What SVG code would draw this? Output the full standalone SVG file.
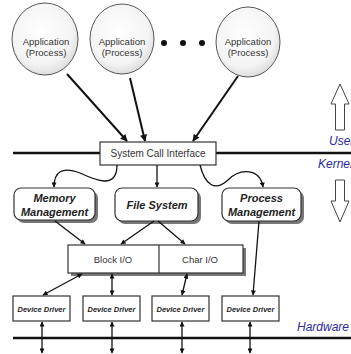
<svg xmlns="http://www.w3.org/2000/svg" width="351" height="354" viewBox="0 0 351 354">
<defs>
<radialGradient id="cg" cx="0.45" cy="0.4" r="0.65">
<stop offset="0" stop-color="#ffffff"/><stop offset="0.7" stop-color="#f4f4f4"/><stop offset="1" stop-color="#d6d6d6"/>
</radialGradient>
<marker id="ah" viewBox="0 0 10 10" refX="9" refY="5" markerWidth="8" markerHeight="7" orient="auto-start-reverse" markerUnits="userSpaceOnUse">
<path d="M0,0 L10,5 L0,10 z" fill="#111"/>
</marker>
<marker id="as" viewBox="0 0 10 10" refX="9" refY="5" markerWidth="6" markerHeight="5" orient="auto-start-reverse" markerUnits="userSpaceOnUse">
<path d="M0,0 L10,5 L0,10 z" fill="#111"/>
</marker>
</defs>
<style>
.app{fill:url(#cg);stroke:#555;stroke-width:1}
.t{font-family:"Liberation Sans",Arial,sans-serif;fill:#333;text-anchor:middle}
.bi{font-family:"Liberation Sans",Arial,sans-serif;font-weight:bold;font-style:italic;fill:#222;text-anchor:middle}
.box{fill:#fff;stroke:#333;stroke-width:1.2}
.sh{fill:#777}
.blue{font-family:"Liberation Sans",Arial,sans-serif;font-style:italic;fill:#2a2aa0;font-size:12px}
.c{fill:none;stroke:#111;stroke-width:2}
.cs{fill:none;stroke:#111;stroke-width:1.3}
.bar{stroke:#111;stroke-width:2.5}
.big{fill:#fff;stroke:#444;stroke-width:1}
</style>
<g id="lines">
<line class="bar" x1="13" y1="153" x2="351" y2="153"/>
<line class="bar" x1="13" y1="338" x2="351" y2="338"/>
</g>
<g id="app1"><ellipse class="app" cx="45" cy="39" rx="33" ry="36"/>
<text class="t" x="46" y="45" font-size="9.5">Application</text><text class="t" x="46" y="56" font-size="9.5">(Process)</text></g>
<g id="app2"><ellipse class="app" cx="122" cy="39" rx="32" ry="35"/>
<text class="t" x="122" y="45" font-size="9.5">Application</text><text class="t" x="122" y="56" font-size="9.5">(Process)</text></g>
<g id="app3"><ellipse class="app" cx="248" cy="42" rx="32" ry="35"/>
<text class="t" x="248" y="45" font-size="9.5">Application</text><text class="t" x="248" y="56" font-size="9.5">(Process)</text></g>
<g id="dots" fill="#111"><circle cx="164" cy="43" r="3"/><circle cx="183" cy="43" r="3"/><circle cx="202" cy="43" r="3"/></g>
<g id="sci"><rect class="box" x="100" y="142" width="116" height="23"/>
<text class="t" x="158" y="157" font-size="10">System Call Interface</text></g>
<g id="mem"><rect class="sh" x="17" y="191" width="81" height="32" rx="7"/><rect class="box" x="14" y="188" width="81" height="32" rx="7"/>
<text class="bi" x="54.5" y="202" font-size="11">Memory</text><text class="bi" x="54.5" y="216" font-size="11">Management</text></g>
<g id="fs"><rect class="sh" x="118" y="191" width="83" height="33" rx="7"/><rect class="box" x="115" y="188" width="83" height="33" rx="7"/>
<text class="bi" x="157" y="209" font-size="11">File System</text></g>
<g id="pm"><rect class="sh" x="225" y="191" width="79" height="33" rx="7"/><rect class="box" x="222" y="188" width="79" height="33" rx="7"/>
<text class="bi" x="261.5" y="202" font-size="11">Process</text><text class="bi" x="261.5" y="216" font-size="11">Management</text></g>
<g id="io"><rect class="sh" x="71" y="248" width="175" height="28"/><rect class="box" x="68" y="245" width="175" height="28"/>
<line x1="159" y1="245" x2="159" y2="273" stroke="#333" stroke-width="1.2"/>
<text class="t" x="113" y="263" font-size="9.5">Block I/O</text><text class="t" x="200" y="263" font-size="9.5">Char I/O</text></g>
<g id="dd1"><rect class="box" x="13" y="296" width="57" height="25"/><text class="bi" x="41.5" y="311.5" font-size="7.5">Device Driver</text></g>
<g id="dd2"><rect class="box" x="83" y="296" width="57" height="25"/><text class="bi" x="111.5" y="311.5" font-size="7.5">Device Driver</text></g>
<g id="dd3"><rect class="box" x="152" y="296" width="57" height="25"/><text class="bi" x="180.5" y="311.5" font-size="7.5">Device Driver</text></g>
<g id="dd4"><rect class="box" x="222" y="296" width="57" height="25"/><text class="bi" x="250.5" y="311.5" font-size="7.5">Device Driver</text></g>
<g id="connectors">
<line class="c" x1="67" y1="74" x2="127" y2="141" marker-end="url(#ah)"/>
<line class="c" x1="130" y1="78" x2="145" y2="141" marker-end="url(#ah)"/>
<line class="c" x1="238" y1="76" x2="193" y2="141" marker-end="url(#ah)"/>
<path class="cs" d="M117,165 C117,190 95,180 80,173 C62,166 54,172 54,187" marker-end="url(#as)"/>
<line class="cs" x1="157" y1="165" x2="157" y2="187" marker-end="url(#as)"/>
<path class="cs" d="M200,165 C205,185 215,192 228,180 C240,168 260,168 263,187" marker-end="url(#as)"/>
<line class="cs" x1="55" y1="221" x2="85" y2="244" marker-end="url(#as)"/>
<line class="cs" x1="154" y1="221" x2="121" y2="244" marker-end="url(#as)"/>
<line class="cs" x1="158" y1="221" x2="185" y2="244" marker-end="url(#as)"/>
<line class="cs" x1="259" y1="221" x2="253" y2="295" marker-end="url(#as)"/>
<line class="cs" x1="82" y1="274" x2="43" y2="295" marker-start="url(#as)" marker-end="url(#as)"/>
<line class="cs" x1="112" y1="274" x2="112" y2="295" marker-start="url(#as)" marker-end="url(#as)"/>
<line class="cs" x1="187" y1="274" x2="182" y2="295" marker-start="url(#as)" marker-end="url(#as)"/>
<line class="cs" x1="42" y1="322" x2="42" y2="353" marker-start="url(#as)" marker-end="url(#as)"/>
<line class="cs" x1="112" y1="322" x2="112" y2="353" marker-start="url(#as)" marker-end="url(#as)"/>
<line class="cs" x1="182" y1="322" x2="182" y2="353" marker-start="url(#as)" marker-end="url(#as)"/>
<line class="cs" x1="250" y1="322" x2="250" y2="353" marker-start="url(#as)" marker-end="url(#as)"/>
</g>
<g id="updown">
<path class="big" d="M340,84 L349,104 L344.5,104 L344.5,130 L335.5,130 L335.5,104 L331,104 Z"/>
<path class="big" d="M335.5,180 L344.5,180 L344.5,201 L349,201 L340,222 L331,201 L335.5,201 Z"/>
</g>
<text class="blue" x="329" y="145">User</text>
<text class="blue" x="318" y="168">Kernel</text>
<text class="blue" x="297" y="331">Hardware</text>
</svg>
